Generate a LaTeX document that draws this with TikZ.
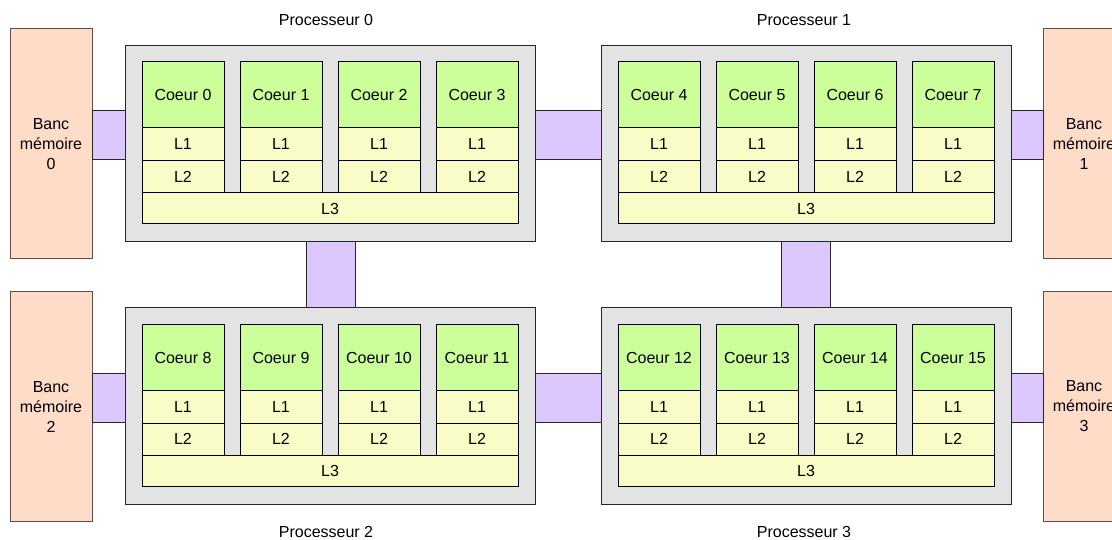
\documentclass[tikz,border=0pt]{standalone}
\usepackage{fontspec}
\setmainfont{Liberation Sans}
\definecolor{bankfill}{HTML}{FFDCC8}
\definecolor{bankdraw}{HTML}{5C4E48}
\definecolor{procfill}{HTML}{E3E3E3}
\definecolor{corefill}{HTML}{CCFF99}
\definecolor{cachefill}{HTML}{FAFCC8}
\definecolor{linkfill}{HTML}{DCC8FF}
\tikzset{
  box/.style={draw=black, line width=1pt, inner sep=0pt, outer sep=0pt, anchor=north west,
    font=\fontsize{16}{20}\selectfont},
  procbox/.style={box, fill=procfill, draw=black!85, minimum width=410pt, minimum height=196.5pt},
  corebox/.style={box, fill=corefill, minimum width=82pt, minimum height=66pt},
  cachebox/.style={box, fill=cachefill, minimum width=82pt, minimum height=32.5pt},
  l3box/.style={box, fill=cachefill, minimum width=376pt, minimum height=31pt},
  bankbox/.style={box, fill=bankfill, draw=bankdraw, minimum width=82pt, minimum height=230pt, align=center},
  linkbox/.style={draw=black!85, line width=1pt, fill=linkfill},
  lbl/.style={inner sep=0pt, font=\fontsize{16}{20}\selectfont}
}
\newcommand\drawproc[4]{%
  \node[procbox] (p#1) at (#2,#3) {};
  \foreach \i in {0,...,3}{
    \pgfmathtruncatemacro\n{#4+\i}
    \node[corebox] (c\n) at (#2+17+98*\i, #3+16.5) {Coeur \n};
    \node[cachebox] (la\n) at (#2+17+98*\i, #3+82.5) {L1};
    \node[cachebox] (lb\n) at (#2+17+98*\i, #3+115) {L2};
  }
  \node[l3box] (lc#1) at (#2+17, #3+147.5) {L3};
}
\begin{document}
\begin{tikzpicture}[x=1pt, y=-1pt]
\useasboundingbox (0,0) rectangle (1112,540);
\clip (0,0) rectangle (1112,540);
% memory banks
\node[bankbox] (m0) at (10,29) {Banc\\mémoire\\0};
\node[bankbox] (m1) at (1043,29) {Banc\\mémoire\\1};
\node[bankbox] (m2) at (10,291.5) {Banc\\mémoire\\2};
\node[bankbox] (m3) at (1043,291.5) {Banc\\mémoire\\3};
% processor frames (coordinates used by links)
\path (125,45.5) coordinate (q0) (601,45.5) coordinate (q1)
      (125,308) coordinate (q2) (601,308) coordinate (q3);
% links (drawn below the boxes)
\draw[linkbox] ([yshift=-65.5pt]m0.east |- q0) rectangle ([yshift=-114.5pt]q0);
\draw[linkbox] ([yshift=-65.5pt]m2.east |- q2) rectangle ([yshift=-114.5pt]q2);
\draw[linkbox] ([xshift=410pt,yshift=-65.5pt]q0) rectangle ([yshift=-114.5pt]q1);
\draw[linkbox] ([xshift=410pt,yshift=-65.5pt]q2) rectangle ([yshift=-114.5pt]q3);
\draw[linkbox] ([xshift=410pt,yshift=-65.5pt]q1) rectangle ([yshift=-114.5pt]m1.west |- q1);
\draw[linkbox] ([xshift=410pt,yshift=-65.5pt]q3) rectangle ([yshift=-114.5pt]m3.west |- q3);
\draw[linkbox] ([xshift=181pt,yshift=-196.5pt]q0) rectangle ([xshift=230pt]q2);
\draw[linkbox] ([xshift=180pt,yshift=-196.5pt]q1) rectangle ([xshift=229pt]q3);
% processors
\drawproc{0}{125}{45.5}{0}
\drawproc{1}{601}{45.5}{4}
\drawproc{2}{125}{308}{8}
\drawproc{3}{601}{308}{12}
% labels
\node[lbl] (t0) at (326,20) {Processeur 0};
\node[lbl] (t1) at (804,20) {Processeur 1};
\node[lbl] (t2) at (326,532) {Processeur 2};
\node[lbl] (t3) at (804,532) {Processeur 3};
\end{tikzpicture}
\end{document}
